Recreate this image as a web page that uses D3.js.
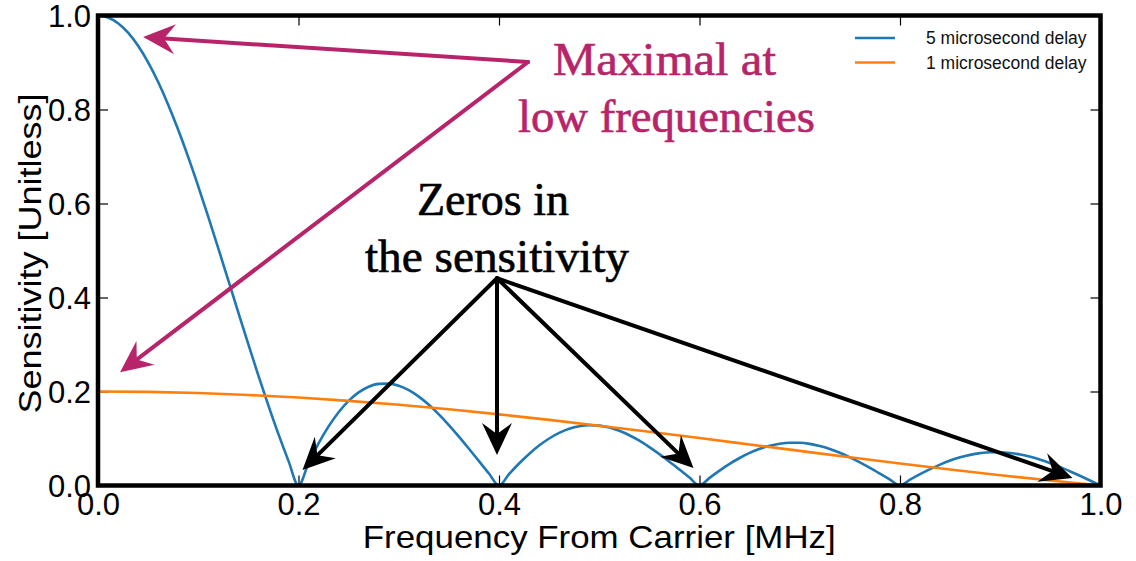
<!DOCTYPE html>
<html>
<head>
<meta charset="utf-8">
<script src="https://cdn.jsdelivr.net/npm/d3@7"></script>
<style>
  body { margin: 0; background: #fff; }
</style>
</head>
<body>
<div id="chart"></div>
<script>
// frequency grid (MHz)
const freqFine = d3.range(0, 101).map(i => i / 100);
const freqCoarse = d3.range(0, 21).map(i => i / 20);

// 5 microsecond delay, read at every 0.01 MHz
const delay5 = [
  1.0000, 0.9959, 0.9836, 0.9634, 0.9355, 0.9003, 0.8584, 0.8103, 0.7568, 0.6986,
  0.6366, 0.5716, 0.5046, 0.4363, 0.3679, 0.3001, 0.2339, 0.1700, 0.1093, 0.0524,
  0.0000, 0.0474, 0.0894, 0.1257, 0.1559, 0.1801, 0.1981, 0.2101, 0.2162, 0.2168,
  0.2122, 0.2028, 0.1892, 0.1719, 0.1515, 0.1286, 0.1039, 0.0781, 0.0518, 0.0255,
  0.0000, 0.0243, 0.0468, 0.0672, 0.0850, 0.1000, 0.1120, 0.1207, 0.1261, 0.1283,
  0.1273, 0.1233, 0.1164, 0.1070, 0.0954, 0.0818, 0.0668, 0.0507, 0.0339, 0.0169,
  0.0000, 0.0163, 0.0317, 0.0459, 0.0585, 0.0693, 0.0780, 0.0847, 0.0890, 0.0911,
  0.0909, 0.0886, 0.0841, 0.0777, 0.0696, 0.0600, 0.0492, 0.0375, 0.0252, 0.0126,
  0.0000, 0.0123, 0.0240, 0.0348, 0.0445, 0.0530, 0.0599, 0.0652, 0.0688, 0.0707,
  0.0707, 0.0691, 0.0658, 0.0610, 0.0548, 0.0474, 0.0390, 0.0298, 0.0201, 0.0101,
  0.0000
];

// 1 microsecond delay, read at every 0.05 MHz
const delay1 = [
  0.2000, 0.1992, 0.1967, 0.1927, 0.1871, 0.1801, 0.1717, 0.1621, 0.1514, 0.1397,
  0.1273, 0.1143, 0.1009, 0.0873, 0.0736, 0.0600, 0.0468, 0.0340, 0.0219, 0.0105,
  0.0000
];

const seriesNames = ["5 microsecond delay", "1 microsecond delay"];
const tickValues = [0, 0.2, 0.4, 0.6, 0.8, 1.0];

// annotation arrows: [x, y] in data units
const magentaStart = [0.429, 0.901];
const magentaTips = [[0.045, 0.954], [0.022, 0.241]];
const blackStart = [0.398, 0.441];
const blackTips = [[0.204, 0.033], [0.398, 0.065], [0.594, 0.037], [0.972, 0.016]];

const magentaLines = ["Maximal at", "low frequencies"];
const blackLines = ["Zeros in", "the sensitivity"];

const W = 1136, H = 561;
const margin = { top: 15.5, right: 35.5, bottom: 75.5, left: 98 };
const width = W - margin.left - margin.right;
const height = H - margin.top - margin.bottom;

const sans = "Liberation Sans, Arial, sans-serif";
const serif = "Liberation Serif, Times New Roman, serif";

const svg = d3.select("#chart").append("svg")
  .attr("width", W).attr("height", H);
const g = svg.append("g")
  .attr("transform", `translate(${margin.left},${margin.top})`);

const x = d3.scaleLinear().domain([0, 1]).range([0, width]);
const y = d3.scaleLinear().domain([0, 1]).range([height, 0]);

const colors = ["#1f77b4", "#ff7f0e"];
const magenta = "#b8246a";

// axes with inward ticks
const fmt = d3.format(".1f");
const axB = g.append("g").attr("transform", `translate(0,${height})`)
  .call(d3.axisBottom(x).tickValues(tickValues).tickFormat(fmt).tickSize(-10).tickPadding(7));
const axL = g.append("g")
  .call(d3.axisLeft(y).tickValues(tickValues).tickFormat(fmt).tickSize(-10).tickPadding(7));
g.append("g")
  .call(d3.axisTop(x).tickValues(tickValues).tickFormat("").tickSize(-10));
g.append("g").attr("transform", `translate(${width},0)`)
  .call(d3.axisRight(y).tickValues(tickValues).tickFormat("").tickSize(-10));

g.selectAll(".domain").remove();
g.selectAll(".tick line").attr("stroke", "#000").attr("stroke-width", 1.2);
g.selectAll(".tick text")
  .attr("font-family", sans)
  .attr("font-size", 31).attr("fill", "#000");
axL.selectAll(".tick text").attr("dy", "0.36em");

// lines
const line = d3.line()
  .x(d => x(d[0])).y(d => y(d[1]))
  .curve(d3.curveMonotoneX);

g.append("path")
  .datum(freqFine.map((f, i) => [f, delay5[i]]))
  .attr("fill", "none").attr("stroke", colors[0]).attr("stroke-width", 2.6)
  .attr("d", line);

g.append("path")
  .datum(freqCoarse.map((f, i) => [f, delay1[i]]))
  .attr("fill", "none").attr("stroke", colors[1]).attr("stroke-width", 2.6)
  .attr("d", line);

// frame
g.append("rect")
  .attr("x", 0).attr("y", 0).attr("width", width).attr("height", height)
  .attr("fill", "none").attr("stroke", "#000").attr("stroke-width", 4.5);

// legend
const legend = g.append("g").attr("transform", `translate(${757},${22.5})`);
seriesNames.forEach((name, i) => {
  const row = legend.append("g").attr("transform", `translate(0,${i * 24.5})`);
  row.append("line").attr("x1", 0).attr("x2", 40)
    .attr("stroke", colors[i]).attr("stroke-width", 2.6);
  row.append("text").attr("x", 71).attr("dy", "0.35em")
    .attr("font-family", sans).attr("font-size", 17.5).attr("fill", "#111")
    .text(name);
});

// axis labels
svg.append("text")
  .attr("x", margin.left + width / 2).attr("y", 548)
  .attr("text-anchor", "middle").attr("font-family", sans).attr("font-size", 32)
  .attr("fill", "#000")
  .attr("textLength", 473).attr("lengthAdjust", "spacingAndGlyphs")
  .text("Frequency From Carrier [MHz]");
svg.append("text")
  .attr("transform", `translate(41,${margin.top + height / 2 + 3}) rotate(-90)`)
  .attr("text-anchor", "middle").attr("font-family", sans).attr("font-size", 32)
  .attr("fill", "#000")
  .attr("textLength", 320).attr("lengthAdjust", "spacingAndGlyphs")
  .text("Sensitivity [Unitless]");

// arrows
function arrow(from, to, color) {
  const x0 = x(from[0]), y0 = y(from[1]);
  const x1 = x(to[0]), y1 = y(to[1]);
  const ang = Math.atan2(y1 - y0, x1 - x0);
  const back = 18;
  g.append("line")
    .attr("x1", x0).attr("y1", y0)
    .attr("x2", x1 - back * Math.cos(ang)).attr("y2", y1 - back * Math.sin(ang))
    .attr("stroke", color).attr("stroke-width", 4).attr("stroke-linecap", "round");
  g.append("path")
    .attr("d", "M0,0 L-32,-15 L-21,0 L-32,15 Z")
    .attr("fill", color)
    .attr("transform", `translate(${x1},${y1}) rotate(${ang * 180 / Math.PI})`);
}
magentaTips.forEach(t => arrow(magentaStart, t, magenta));
blackTips.forEach(t => arrow(blackStart, t, "#000"));

// annotation text
const magText = [[0.565, 0.873, 223], [0.567, 0.752, 297]];
magentaLines.forEach((s, i) => {
  g.append("text")
    .attr("x", x(magText[i][0])).attr("y", y(magText[i][1]))
    .attr("text-anchor", "middle").attr("font-family", serif).attr("font-size", 46)
    .attr("fill", magenta).attr("stroke", magenta).attr("stroke-width", 0.6)
    .attr("textLength", magText[i][2]).attr("lengthAdjust", "spacingAndGlyphs")
    .text(s);
});
const blkText = [[0.394, 0.576, 152], [0.398, 0.455, 264]];
blackLines.forEach((s, i) => {
  g.append("text")
    .attr("x", x(blkText[i][0])).attr("y", y(blkText[i][1]))
    .attr("text-anchor", "middle").attr("font-family", serif).attr("font-size", 46)
    .attr("fill", "#000").attr("stroke", "#000").attr("stroke-width", 0.6)
    .attr("textLength", blkText[i][2]).attr("lengthAdjust", "spacingAndGlyphs")
    .text(s);
});
</script>
</body>
</html>
